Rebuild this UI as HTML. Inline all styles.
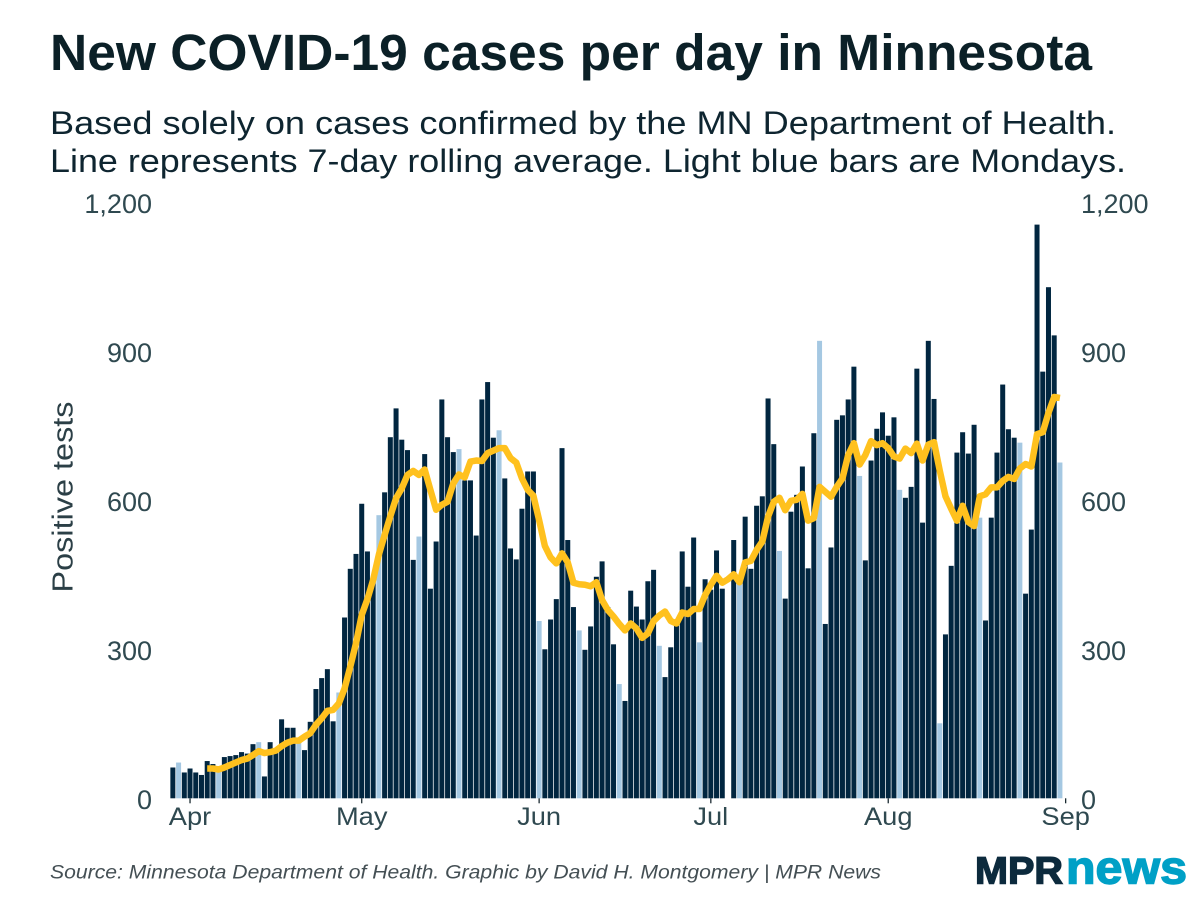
<!DOCTYPE html>
<html lang="en">
<head>
<meta charset="utf-8">
<title>New COVID-19 cases per day in Minnesota</title>
<style>
  html, body { margin: 0; padding: 0; background: #ffffff; }
  body { width: 1200px; height: 900px; overflow: hidden; }
  svg { display: block; font-family: "Liberation Sans", sans-serif; }
</style>
</head>
<body>
<svg id="chart" xmlns="http://www.w3.org/2000/svg" width="1200" height="900" viewBox="0 0 1200 900">
  <rect x="0" y="0" width="1200" height="900" fill="#ffffff"></rect>
  <text x="50" y="70" font-size="51" font-weight="700" fill="#0b2027" textLength="1042" lengthAdjust="spacingAndGlyphs">New COVID-19 cases per day in Minnesota</text>
  <text x="50" y="134" font-size="32" fill="#0e2530" textLength="1066" lengthAdjust="spacingAndGlyphs">Based solely on cases confirmed by the MN Department of Health.</text>
  <text x="50" y="172" font-size="32" fill="#0e2530" textLength="1076" lengthAdjust="spacingAndGlyphs">Line represents 7-day rolling average. Light blue bars are Mondays.</text>
  <text transform="translate(72.5,497) rotate(-90)" text-anchor="middle" font-size="29" fill="#2b3f46" textLength="191" lengthAdjust="spacingAndGlyphs">Positive tests</text>
  <g id="bars"></g>
  <g id="axes"></g>
  <path id="avg" fill="none" stroke="#ffc11e" stroke-width="6.5" stroke-linejoin="round"></path>
  <text x="50" y="878.5" font-size="19" font-style="italic" fill="#444f54" textLength="831" lengthAdjust="spacingAndGlyphs">Source: Minnesota Department of Health. Graphic by David H. Montgomery | MPR News</text>
  <g>
    <text x="975" y="883.5" font-size="38" font-weight="700" fill="#0c2a3d" stroke="#0c2a3d" stroke-width="1.4" textLength="88" lengthAdjust="spacingAndGlyphs">MPR</text>
    <text x="1066" y="883.5" font-size="46" font-weight="700" fill="#00a0c6" stroke="#00a0c6" stroke-width="1.4" textLength="121" lengthAdjust="spacingAndGlyphs">news</text>
  </g>
</svg>
<script>
// Daily values, first bar is Sunday, March 29 2020; one entry per day.
var dailyCases = [
  62,72,52,60,52,47,75,69,57,83,
  85,87,93,90,109,113,44,113,93,159,
  142,142,117,97,154,220,242,260,155,213,
  364,462,492,593,497,440,570,616,727,785,
  722,701,480,527,693,422,517,803,727,697,
  703,640,640,529,803,838,726,741,644,503,
  481,583,658,658,357,300,360,401,705,520,
  385,338,299,346,446,477,385,310,230,196,
  418,386,360,437,460,307,244,304,352,497,
  426,525,314,441,420,499,422,0,520,440,
  567,462,589,608,805,713,498,402,577,611,
  668,463,735,921,351,505,762,771,803,869,
  649,479,680,744,777,730,767,621,605,627,
  865,555,921,804,151,330,468,696,737,694,
  752,565,358,565,696,833,743,726,716,412,
  541,1155,859,1029,932,676
];
var rollingAverage = [
  null,null,null,null,null,null,
  60,60,58,62,67,72,77,80,87,95,
  91,93,96,105,112,116,116,124,131,148,
  161,176,178,191,221,265,312,369,401,440,
  491,530,568,604,624,651,659,651,662,621,
  581,591,597,634,652,646,678,680,679,695,
  700,705,705,685,676,644,621,609,560,508,
  485,473,493,475,434,431,430,427,435,399,
  379,366,351,338,352,342,323,332,357,368,
  376,357,352,374,371,381,381,409,430,448,
  434,441,451,435,475,478,500,517,567,597,
  605,580,599,601,613,559,564,627,617,607,
  627,644,691,715,672,691,719,711,715,705,
  688,684,704,695,714,680,712,717,660,608,
  583,559,589,556,548,608,612,626,626,639,
  647,643,664,673,668,733,737,776,808,806
];
var yTicks = [0, 300, 600, 900, 1200];
var yTickLabels = ["0", "300", "600", "900", "1,200"];
var monthLabels = ["Apr", "May", "Jun", "Jul", "Aug", "Sep"];
var monthDays = [3, 33, 64, 94, 125, 156];

var SVG_NS = "http://www.w3.org/2000/svg";
function xScale(day) { return 172.86 + 5.723 * day; }
function yScale(value) { return 798.3 - value * 0.4967; }
var barWidth = 5;

var barsGroup = document.getElementById("bars");
dailyCases.forEach(function (value, i) {
  var rect = document.createElementNS(SVG_NS, "rect");
  
  
  rect.setAttribute("x", (xScale(i) - barWidth / 2).toFixed(2));
  rect.setAttribute("y", yScale(value).toFixed(2));
  rect.setAttribute("width", barWidth);
  rect.setAttribute("height", Math.max(0, yScale(0) - yScale(value)).toFixed(2));
  rect.setAttribute("fill", i % 7 === 1 ? "#a5c8e2" : "#012640");
  barsGroup.appendChild(rect);
});

var d = "";
rollingAverage.forEach(function (value, i) {
  if (value === null) { return; }
  d += (d === "" ? "M" : "L") + xScale(i).toFixed(2) + " " + yScale(value).toFixed(2);
});
document.getElementById("avg").setAttribute("d", d);

var axesGroup = document.getElementById("axes");
function addText(name, x, y, anchor, size, content, stretch) {
  var t = document.createElementNS(SVG_NS, "text");
  
  
  t.setAttribute("x", x);
  t.setAttribute("y", y);
  t.setAttribute("text-anchor", anchor);
  t.setAttribute("font-size", size);
  t.setAttribute("fill", "#2f4950");
  t.textContent = content;
  axesGroup.appendChild(t);
  t.setAttribute("textLength", (t.getComputedTextLength() * stretch).toFixed(2));
  t.setAttribute("lengthAdjust", "spacingAndGlyphs");
}
yTicks.forEach(function (tick, i) {
  var y = yScale(tick) + 10.7;
  addText("y-tick-label-left", 152, y, "end", 27, yTickLabels[i], 1);
  addText("y-tick-label-right", 1081, y, "start", 27, yTickLabels[i], 1);
});
monthLabels.forEach(function (label, i) {
  var x = xScale(monthDays[i]);
  var tick = document.createElementNS(SVG_NS, "line");
  
  
  tick.setAttribute("x1", x);
  tick.setAttribute("x2", x);
  tick.setAttribute("y1", yScale(0));
  tick.setAttribute("y2", yScale(0) + 5);
  tick.setAttribute("stroke", "#1a2a30");
  tick.setAttribute("stroke-width", 1.3);
  axesGroup.appendChild(tick);
  addText("x-tick-label", x, 825, "middle", 25, label, 1.09);
});
</script>
</body>
</html>
